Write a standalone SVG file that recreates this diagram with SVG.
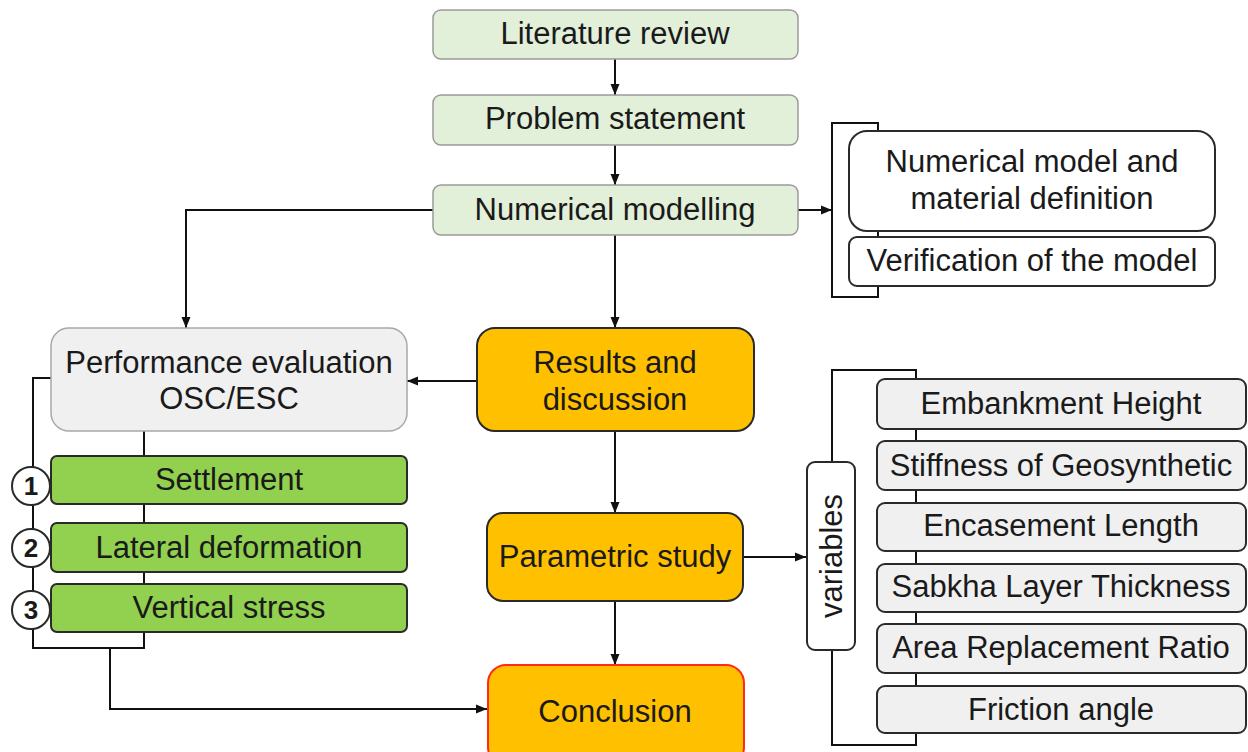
<svg xmlns="http://www.w3.org/2000/svg" width="1248" height="752" viewBox="0 0 1248 752">
<defs>
<marker id="ah" markerWidth="12" markerHeight="10" refX="11" refY="5" orient="auto" markerUnits="userSpaceOnUse">
<path d="M0,0.5 L11,5 L0,9.5 Z" fill="#111"/>
</marker>
<style>
text{font-family:"Liberation Sans",Arial,sans-serif;font-size:31px;fill:#1a1a1a;text-anchor:middle}
.top{fill:#e2efd9;stroke:#9a9a9a;stroke-width:1.5}
.gray{fill:#f0f0f0;stroke:#a8a8a8;stroke-width:1.5}
.org{fill:#ffc000;stroke:#2a2a2a;stroke-width:2}
.grn{fill:#92d050;stroke:#2a2a2a;stroke-width:2}
.wht{fill:#ffffff;stroke:#2a2a2a;stroke-width:2}
.var{fill:#f0f0f0;stroke:#2a2a2a;stroke-width:2}
.ln{fill:none;stroke:#111;stroke-width:2}
.arr{fill:none;stroke:#111;stroke-width:2;marker-end:url(#ah)}
.num{font-size:26px;font-weight:bold}
</style>
</defs>
<rect width="1248" height="752" fill="#ffffff"/>
<g id="connectors">
<path class="arr" d="M615,59 V95"/>
<path class="arr" d="M615,145 V185"/>
<path class="arr" d="M615,235 V328"/>
<path class="arr" d="M798,210 H832"/>
<path class="arr" d="M433,210 H186 V328"/>
<path class="arr" d="M477,381 H407"/>
<path class="arr" d="M615,431 V513"/>
<path class="arr" d="M743,557 H806"/>
<path class="arr" d="M615,601 V665"/>
<path class="ln" d="M878,123 H832 V297 H878 Z"/>
<path class="ln" d="M916,370 H832 V745 H916 Z"/>
<path class="ln" d="M51,378 H33 V648 H144 V431"/>
<path class="arr" d="M110,648 V709 H487"/>
</g>
<g id="literature-review"><rect class="top" x="433" y="10" width="365" height="49" rx="8"/><text x="615" y="44">Literature review</text></g>
<g id="problem-statement"><rect class="top" x="433" y="95" width="365" height="50" rx="8"/><text x="615" y="129">Problem statement</text></g>
<g id="numerical-modelling"><rect class="top" x="433" y="185" width="365" height="50" rx="8"/><text x="615" y="220">Numerical modelling</text></g>
<g id="numerical-model-def"><rect class="wht" x="849" y="131" width="366" height="100" rx="18"/><text x="1032" y="172">Numerical model and</text><text x="1032" y="209">material definition</text></g>
<g id="verification"><rect class="wht" x="849" y="237" width="366" height="49" rx="8"/><text x="1032" y="271">Verification of the model</text></g>
<g id="performance-evaluation"><rect class="gray" x="51" y="328" width="356" height="103" rx="18"/><text x="229" y="373">Performance evaluation</text><text x="229" y="409">OSC/ESC</text></g>
<g id="settlement"><rect class="grn" x="51" y="456" width="356" height="48" rx="6"/><text x="229" y="490">Settlement</text></g>
<g id="lateral-deformation"><rect class="grn" x="51" y="523" width="356" height="49" rx="6"/><text x="229" y="558">Lateral deformation</text></g>
<g id="vertical-stress"><rect class="grn" x="51" y="584" width="356" height="48" rx="6"/><text x="229" y="618">Vertical stress</text></g>
<g id="badge-1"><circle cx="31" cy="486" r="19" class="wht"/><text class="num" x="31" y="495">1</text></g>
<g id="badge-2"><circle cx="31" cy="548" r="19" class="wht"/><text class="num" x="31" y="557">2</text></g>
<g id="badge-3"><circle cx="31" cy="610" r="19" class="wht"/><text class="num" x="31" y="619">3</text></g>
<g id="results-discussion"><rect class="org" x="477" y="328" width="277" height="103" rx="18"/><text x="615" y="373">Results and</text><text x="615" y="410">discussion</text></g>
<g id="parametric-study"><rect class="org" x="487" y="513" width="256" height="88" rx="16"/><text x="615" y="567">Parametric study</text></g>
<g id="conclusion"><rect x="488" y="665" width="256" height="100" rx="18" fill="#ffc000" stroke="#ff2a1a" stroke-width="2"/><text x="615" y="722">Conclusion</text></g>
<g id="variables"><rect class="wht" x="807" y="462" width="48" height="188" rx="8"/><text x="0" y="0" transform="translate(842,556) rotate(-90)">variables</text></g>
<g id="embankment-height"><rect class="var" x="877" y="379" width="369" height="50" rx="8"/><text x="1061" y="414">Embankment Height</text></g>
<g id="stiffness"><rect class="var" x="877" y="441" width="369" height="49" rx="8"/><text x="1061" y="476">Stiffness of Geosynthetic</text></g>
<g id="encasement-length"><rect class="var" x="877" y="503" width="369" height="48" rx="8"/><text x="1061" y="536">Encasement Length</text></g>
<g id="sabkha"><rect class="var" x="877" y="564" width="369" height="48" rx="8"/><text x="1061" y="597">Sabkha Layer Thickness</text></g>
<g id="area-ratio"><rect class="var" x="877" y="624" width="369" height="49" rx="8"/><text x="1061" y="658">Area Replacement Ratio</text></g>
<g id="friction-angle"><rect class="var" x="877" y="686" width="369" height="47" rx="8"/><text x="1061" y="720">Friction angle</text></g>
</svg>
